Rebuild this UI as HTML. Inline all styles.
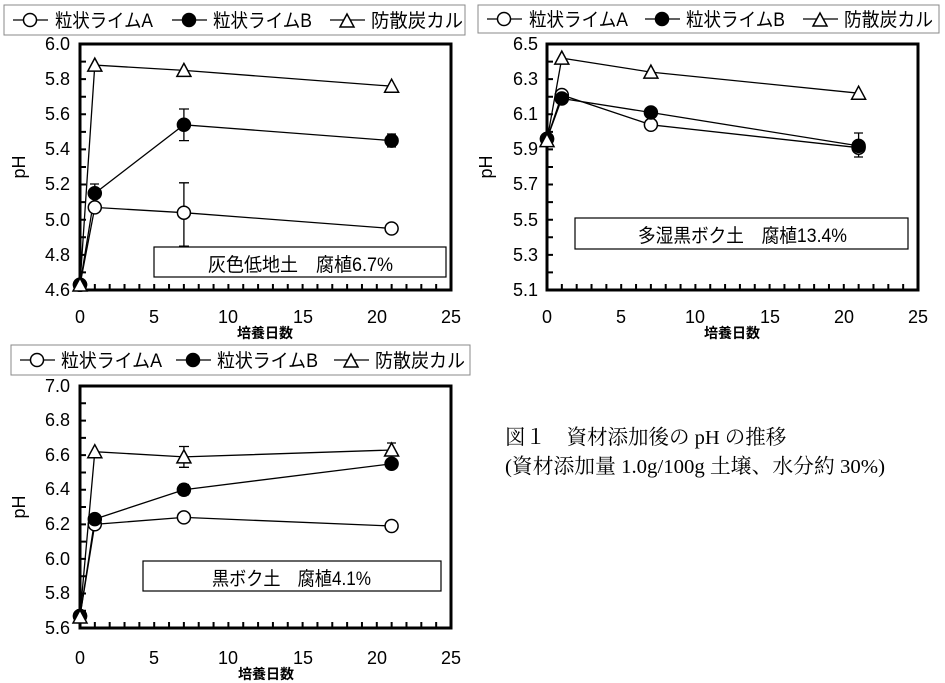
<!DOCTYPE html>
<html><head><meta charset="utf-8"><style>
html,body{margin:0;padding:0;background:#fff;}
svg{display:block;font-family:"Liberation Sans","Noto Sans CJK JP",sans-serif;}
.lg{font-size:19px;}
.tk{font-size:18px;}
.xt{font-size:14px;font-weight:bold;}
</style></head><body>
<svg width="945" height="683" viewBox="0 0 945 683" xmlns="http://www.w3.org/2000/svg">
<defs>
<g id="oc"><circle r="6.5" fill="#fff" stroke="#000" stroke-width="1.5"/></g>
<g id="fc"><circle r="6.5" fill="#000" stroke="#000" stroke-width="1.5"/></g>
<g id="tr"><path d="M0,-7 L7,6 L-7,6 Z" fill="#fff" stroke="#000" stroke-width="1.5"/></g>
</defs>

<!-- ===== Chart 1 ===== -->
<rect x="4" y="5" width="461" height="30" fill="#fff" stroke="#888" stroke-width="1"/>
<g class="lg">
<line x1="13" y1="20" x2="48" y2="20" stroke="#000" stroke-width="1.3"/><use href="#oc" x="30" y="20"/>
<text x="55" y="27" textLength="98" lengthAdjust="spacingAndGlyphs">粒状ライムA</text>
<line x1="172" y1="20" x2="207" y2="20" stroke="#000" stroke-width="1.3"/><use href="#fc" x="189" y="20"/>
<text x="213" y="27" textLength="99" lengthAdjust="spacingAndGlyphs">粒状ライムB</text>
<line x1="330" y1="20" x2="365" y2="20" stroke="#000" stroke-width="1.3"/><use href="#tr" x="347" y="21"/>
<text x="371" y="27" textLength="92" lengthAdjust="spacingAndGlyphs">防散炭カル</text>
</g>
<rect x="80" y="44" width="371" height="246" fill="none" stroke="#000" stroke-width="3"/>
<line x1="83" y1="44" x2="83" y2="290" stroke="#000" stroke-width="6" stroke-dasharray="2 15.57" stroke-dashoffset="-16.57"/>
<line x1="80" y1="287" x2="451" y2="287" stroke="#000" stroke-width="6" stroke-dasharray="2 12.84" stroke-dashoffset="1"/>
<g class="tk" text-anchor="end">
<text x="70" y="296">4.6</text><text x="70" y="261">4.8</text><text x="70" y="226">5.0</text><text x="70" y="190">5.2</text><text x="70" y="155">5.4</text><text x="70" y="120">5.6</text><text x="70" y="85">5.8</text><text x="70" y="50">6.0</text>
</g>
<g class="tk" text-anchor="middle">
<text x="80" y="323">0</text><text x="154" y="323">5</text><text x="228" y="323">10</text><text x="303" y="323">15</text><text x="377" y="323">20</text><text x="451" y="323">25</text>
</g>
<text class="xt" x="265" y="338" text-anchor="middle">培養日数</text>
<text class="tk" transform="translate(25,167) rotate(-90)" text-anchor="middle">pH</text>
<rect x="154" y="247" width="292" height="30" fill="#fff" stroke="#000" stroke-width="1.2"/>
<text x="208" y="271" font-size="19" textLength="185" lengthAdjust="spacingAndGlyphs">灰色低地土　腐植6.7%</text>
<g stroke="#000" stroke-width="1.3" fill="none">
<polyline points="80,284.7 94.8,207.4 183.9,212.7 391.6,228.5"/>
<polyline points="80,284.7 94.8,193.3 183.9,124.8 391.6,140.6"/>
<polyline points="80,284.7 94.8,65.1 183.9,70.4 391.6,86.2"/>
<path d="M183.9,182.8V246.1M179,182.8h10M179,246.1h10 M183.9,109V140.6M179,109h10M179,140.6h10 M391.6,134V147M387,134h9M387,147h9 M94.8,184V207M90,184h9"/>
</g>
<use href="#oc" x="80" y="284.7"/><use href="#fc" x="80" y="284.7"/><use href="#tr" x="80" y="285"/>
<use href="#fc" x="94.8" y="193.3"/><use href="#oc" x="94.8" y="207.4"/><use href="#tr" x="94.8" y="65.1"/>
<use href="#oc" x="183.9" y="212.7"/><use href="#fc" x="183.9" y="124.8"/><use href="#tr" x="183.9" y="70.4"/>
<use href="#oc" x="391.6" y="228.5"/><use href="#fc" x="391.6" y="140.6"/><use href="#tr" x="391.6" y="86.2"/>

<!-- ===== Chart 2 ===== -->
<rect x="478" y="5" width="461" height="28" fill="#fff" stroke="#888" stroke-width="1"/>
<g class="lg">
<line x1="487" y1="19" x2="522" y2="19" stroke="#000" stroke-width="1.3"/><use href="#oc" x="504" y="19"/>
<text x="529" y="26" textLength="99" lengthAdjust="spacingAndGlyphs">粒状ライムA</text>
<line x1="645" y1="19" x2="680" y2="19" stroke="#000" stroke-width="1.3"/><use href="#fc" x="662" y="19"/>
<text x="686" y="26" textLength="99" lengthAdjust="spacingAndGlyphs">粒状ライムB</text>
<line x1="803" y1="19" x2="838" y2="19" stroke="#000" stroke-width="1.3"/><use href="#tr" x="820" y="20"/>
<text x="844" y="26" textLength="89" lengthAdjust="spacingAndGlyphs">防散炭カル</text>
</g>
<rect x="547" y="44" width="371" height="246" fill="none" stroke="#000" stroke-width="3"/>
<line x1="550" y1="44" x2="550" y2="290" stroke="#000" stroke-width="6" stroke-dasharray="2 15.57" stroke-dashoffset="-16.57"/>
<line x1="547" y1="287" x2="918" y2="287" stroke="#000" stroke-width="6" stroke-dasharray="2 12.84" stroke-dashoffset="1"/>
<g class="tk" text-anchor="end">
<text x="538" y="296">5.1</text><text x="538" y="261">5.3</text><text x="538" y="226">5.5</text><text x="538" y="190">5.7</text><text x="538" y="155">5.9</text><text x="538" y="120">6.1</text><text x="538" y="85">6.3</text><text x="538" y="50">6.5</text>
</g>
<g class="tk" text-anchor="middle">
<text x="547" y="323">0</text><text x="621" y="323">5</text><text x="695" y="323">10</text><text x="770" y="323">15</text><text x="844" y="323">20</text><text x="918" y="323">25</text>
</g>
<text class="xt" x="732" y="338" text-anchor="middle">培養日数</text>
<text class="tk" transform="translate(492,167) rotate(-90)" text-anchor="middle">pH</text>
<rect x="575" y="218" width="333" height="31" fill="#fff" stroke="#000" stroke-width="1.2"/>
<text x="638" y="242" font-size="19" textLength="209" lengthAdjust="spacingAndGlyphs">多湿黒ボク土　腐植13.4%</text>
<g stroke="#000" stroke-width="1.3" fill="none">
<polyline points="547,138.9 561.8,95 650.9,124.8 858.6,147.7"/>
<polyline points="547,138.9 561.8,98.5 650.9,112.5 858.6,145.9"/>
<polyline points="547,140.6 561.8,58.1 650.9,72.1 858.6,93.2"/>
<path d="M858.6,133V157M854,133h9M854,157h9"/>
</g>
<use href="#oc" x="547" y="138.9"/><use href="#fc" x="547" y="138.9"/><use href="#tr" x="547" y="140.6"/>
<use href="#oc" x="561.8" y="95"/><use href="#fc" x="561.8" y="98.5"/><use href="#tr" x="561.8" y="58.1"/>
<use href="#oc" x="650.9" y="124.8"/><use href="#fc" x="650.9" y="112.5"/><use href="#tr" x="650.9" y="72.1"/>
<use href="#oc" x="858.6" y="147.7"/><use href="#fc" x="858.6" y="145.9"/><use href="#tr" x="858.6" y="93.2"/>

<!-- ===== Chart 3 ===== -->
<rect x="11" y="345" width="459" height="30" fill="#fff" stroke="#888" stroke-width="1"/>
<g class="lg">
<line x1="20" y1="360" x2="55" y2="360" stroke="#000" stroke-width="1.3"/><use href="#oc" x="37" y="360"/>
<text x="61" y="367" textLength="101" lengthAdjust="spacingAndGlyphs">粒状ライムA</text>
<line x1="176" y1="360" x2="211" y2="360" stroke="#000" stroke-width="1.3"/><use href="#fc" x="193" y="360"/>
<text x="217" y="367" textLength="101" lengthAdjust="spacingAndGlyphs">粒状ライムB</text>
<line x1="334" y1="360" x2="369" y2="360" stroke="#000" stroke-width="1.3"/><use href="#tr" x="351" y="361"/>
<text x="375" y="367" textLength="90" lengthAdjust="spacingAndGlyphs">防散炭カル</text>
</g>
<rect x="80" y="386" width="371" height="242" fill="none" stroke="#000" stroke-width="3"/>
<line x1="83" y1="386" x2="83" y2="628" stroke="#000" stroke-width="6" stroke-dasharray="2 15.29" stroke-dashoffset="-16.29"/>
<line x1="80" y1="625" x2="451" y2="625" stroke="#000" stroke-width="6" stroke-dasharray="2 12.84" stroke-dashoffset="1"/>
<g class="tk" text-anchor="end">
<text x="70" y="634">5.6</text><text x="70" y="599">5.8</text><text x="70" y="565">6.0</text><text x="70" y="530">6.2</text><text x="70" y="495">6.4</text><text x="70" y="461">6.6</text><text x="70" y="426">6.8</text><text x="70" y="392">7.0</text>
</g>
<g class="tk" text-anchor="middle">
<text x="80" y="664">0</text><text x="154" y="664">5</text><text x="228" y="664">10</text><text x="303" y="664">15</text><text x="377" y="664">20</text><text x="451" y="664">25</text>
</g>
<text class="xt" x="266" y="679" text-anchor="middle">培養日数</text>
<text class="tk" transform="translate(25,507) rotate(-90)" text-anchor="middle">pH</text>
<rect x="143" y="561" width="298" height="30" fill="#fff" stroke="#000" stroke-width="1.2"/>
<text x="212" y="585" font-size="19" textLength="159" lengthAdjust="spacingAndGlyphs">黒ボク土　腐植4.1%</text>
<g stroke="#000" stroke-width="1.3" fill="none">
<polyline points="80,616 94.8,524.3 183.9,517.4 391.6,526"/>
<polyline points="80,616 94.8,519.1 183.9,489.7 391.6,463.8"/>
<polyline points="80,616 94.8,451.7 183.9,456.9 391.6,450"/>
<path d="M183.9,446.5V467.3M179,446.5h10M179,467.3h10 M391.6,443V450M387,443h9 M183.9,484.5V494.9M179,484.5h10M179,494.9h10"/>
</g>
<use href="#oc" x="80" y="616"/><use href="#fc" x="80" y="616"/><use href="#tr" x="80" y="617"/>
<use href="#oc" x="94.8" y="524.3"/><use href="#fc" x="94.8" y="519.1"/><use href="#tr" x="94.8" y="451.7"/>
<use href="#oc" x="183.9" y="517.4"/><use href="#fc" x="183.9" y="489.7"/><use href="#tr" x="183.9" y="456.9"/>
<use href="#oc" x="391.6" y="526"/><use href="#fc" x="391.6" y="463.8"/><use href="#tr" x="391.6" y="450"/>

<!-- Caption -->
<g font-family="'Liberation Serif','Noto Serif CJK SC',serif" font-size="20.5">
<text x="505" y="444">図１　資材添加後の pH の推移</text>
<text x="505" y="473" textLength="380" lengthAdjust="spacingAndGlyphs">(資材添加量 1.0g/100g 土壌、水分約 30%)</text>
</g>
</svg>
</body></html>
